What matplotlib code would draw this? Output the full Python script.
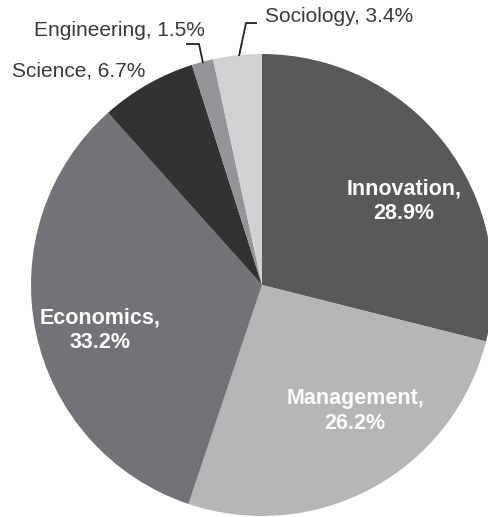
import matplotlib
matplotlib.use("Agg")
import matplotlib.pyplot as plt

plt.rcParams['font.family'] = ['Liberation Sans', 'DejaVu Sans']

# data (clockwise from 12 o'clock)
fields = ['Innovation', 'Management', 'Economics', 'Science', 'Engineering', 'Sociology']
shares = [28.9, 26.2, 33.2, 6.7, 1.5, 3.4]
colors = ['#58595b', '#b5b6b8', '#727376', '#333132', '#939598', '#d1d2d4']

fig = plt.figure(figsize=(4.88, 5.17), dpi=100)
ax = fig.add_axes([0, 0, 1, 1])

# pie centre at pixel (262, 285), radius 231 px
cx, cy, R = 262, 285, 231
def px(x, y):
    return (x - cx) / R, (cy - y) / R

ax.pie(shares, colors=colors, startangle=90, counterclock=False, radius=1,
       wedgeprops=dict(linewidth=0))
ax.set_xlim(px(0, 0)[0], px(488, 0)[0])
ax.set_ylim(px(0, 517)[1], px(0, 0)[1])
ax.set_aspect('auto')
ax.axis('off')

# inner labels
inner = {'Innovation': (404, 201), 'Management': (355, 411), 'Economics': (100, 330)}
for name, v in zip(fields, shares):
    if name in inner:
        x, y = px(*inner[name])
        ax.text(x, y, f'{name},\n{v}%', color='white', fontsize=15.5, fontweight='bold',
                ha='center', va='center', linespacing=1.2)

# outer labels
tc = '#3a3a3a'
fs = 15
x, y = px(145, 71)
ax.text(x, y, f'{fields[3]}, {shares[3]}%', ha='right', va='center', fontsize=fs, color=tc)
x, y = px(205, 31)
ax.text(x, y, f'{fields[4]}, {shares[4]}%', ha='right', va='center', fontsize=fs, color=tc)
x, y = px(265, 17)
ax.text(x, y, f'{fields[5]}, {shares[5]}%', ha='left', va='center', fontsize=fs, color=tc)

# leader lines
for pts in [[(186, 44), (199, 44), (203, 63)], [(257, 23), (246, 23), (239, 56)]]:
    xs, ys = zip(*[px(a, b) for a, b in pts])
    ax.plot(xs, ys, color='#222222', lw=1.3, solid_capstyle='butt')

fig.savefig('out.png', dpi=100)
